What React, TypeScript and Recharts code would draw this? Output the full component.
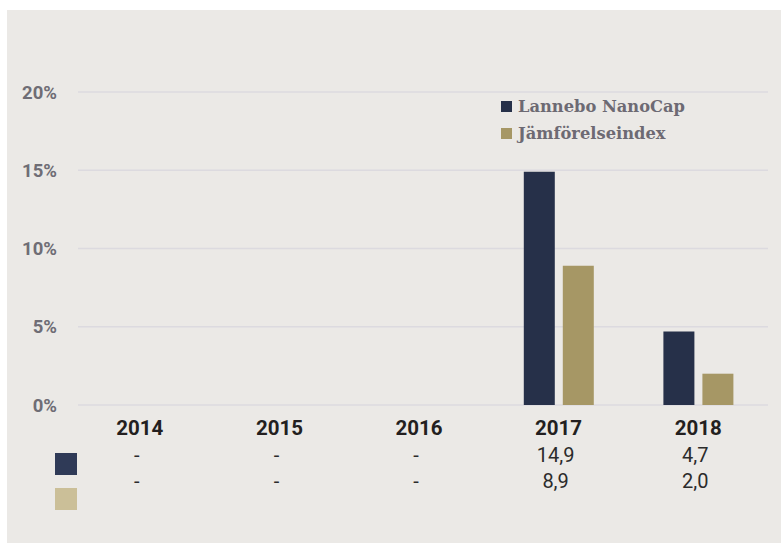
import React from 'react';
import { BarChart, Bar, CartesianGrid, XAxis, YAxis, Legend } from 'recharts';

const years = ['2014', '2015', '2016', '2017', '2018'];
const nanoCap = [null, null, null, 14.9, 4.7];
const benchmark = [null, null, null, 8.9, 2.0];
const yTicks = [0, 5, 10, 15, 20];
const seriesNames = ['Lannebo NanoCap', 'Jämförelseindex'];

const NAVY = '#263049';
const GOLD = '#a69765';

const data = years.map((year, i) => ({
  year,
  nanoCap: nanoCap[i],
  benchmark: benchmark[i],
}));

const fmt = (v: number | null) => (v == null ? '-' : v.toFixed(1).replace('.', ','));

const TableTick = (props: any) => {
  const { x, y, payload, index } = props;
  const row = data[index];
  return (
    <g>
      <text x={x} y={y + 30} textAnchor="middle" fontFamily="Roboto" fontWeight={700} fontSize={20.5} fill="#231f20">
        {payload.value}
      </text>
      <text x={x - 3} y={y + 57} textAnchor="middle" fontFamily="Roboto" fontSize={20} fill="#2b2b2b">
        {fmt(row.nanoCap)}
      </text>
      <text x={x - 3} y={y + 83} textAnchor="middle" fontFamily="Roboto" fontSize={20} fill="#2b2b2b">
        {fmt(row.benchmark)}
      </text>
    </g>
  );
};

const LegendBox = (props: any) => {
  const items = [...props.payload].sort(
    (a: any, b: any) => seriesNames.indexOf(a.value) - seriesNames.indexOf(b.value)
  );
  return (
    <div>
      {items.map((p: any) => (
        <div key={p.value} style={{ display: 'flex', alignItems: 'center', height: 27 }}>
          <span style={{ width: 11, height: 11, background: p.color, marginRight: 6 }} />
          <span style={{ fontFamily: 'DejaVu Serif', fontWeight: 700, fontSize: 16.3, color: '#6d6a73' }}>{p.value}</span>
        </div>
      ))}
    </div>
  );
};

export default function App() {
  return (
    <div style={{ position: 'absolute', left: 7, top: 10, width: 774, height: 533, background: '#ebe9e6' }}>
      <BarChart width={774} height={533} data={data} barSize={31} barGap={8}
                margin={{ top: 82, right: 13, bottom: 18, left: 0 }}>
        <CartesianGrid vertical={false} stroke="#dcdadf" strokeWidth={1.5} />
        <XAxis dataKey="year" axisLine={false} tickLine={false} tickSize={0} tickMargin={0}
               height={120} padding={{ left: -8, right: 0 }} tick={<TableTick />} interval={0} />
        <YAxis domain={[0, 20]} ticks={yTicks} width={71} axisLine={false} tickLine={false}
               tickSize={0} tickMargin={21} tickFormatter={(v) => `${v}%`}
               tick={{ fontFamily: 'Roboto', fontWeight: 700, fontSize: 18.5, fill: '#6f6d75' }} />
        <Legend layout="vertical" verticalAlign="middle" align="center" content={<LegendBox />}
                wrapperStyle={{ top: 83, left: 494, width: 260, height: 60 }} />
        <Bar dataKey="nanoCap" name={seriesNames[0]} fill={NAVY} isAnimationActive={false} />
        <Bar dataKey="benchmark" name={seriesNames[1]} fill={GOLD} isAnimationActive={false} />
      </BarChart>
      <div style={{ position: 'absolute', left: 48, top: 443, width: 22, height: 22, background: '#2f3a57' }} />
      <div style={{ position: 'absolute', left: 48, top: 478, width: 22, height: 22, background: '#cbbf98' }} />
    </div>
  );
}
